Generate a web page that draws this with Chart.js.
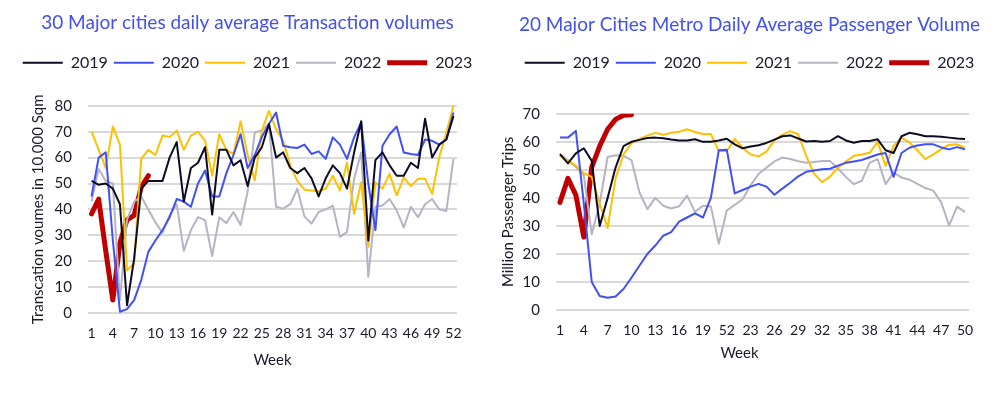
<!DOCTYPE html>
<html>
<head>
<meta charset="utf-8">
<script src="https://cdn.jsdelivr.net/npm/chart.js@4.4.1/dist/chart.umd.min.js"></script>
<style>
  body { margin: 0; background: #fff; }
  .box { position: absolute; top: 0; height: 396px; }
  #leftBox { left: 0; width: 495px; }
  #rightBox { left: 495px; width: 509px; }
</style>
</head>
<body>
<div class="box" id="leftBox"><canvas id="txChart"></canvas></div>
<div class="box" id="rightBox"><canvas id="metroChart"></canvas></div>
<script>
// ---- data: 30 cities transaction volumes (10,000 sqm) ----
const txWeeks = ['1','2','3','4','5','6','7','8','9','10','11','12','13','14','15','16','17','18','19','20',
  '21','22','23','24','25','26','27','28','29','30','31','32','33','34','35','36','37','38','39','40',
  '41','42','43','44','45','46','47','48','49','50','51','52'];
const tx2019 = [51, 49.5, 50, 48, 42, 3, 21, 48, 51, 51, 51, 60, 66, 43, 56, 58, 64, 38, 63, 63,
  57, 59, 49, 60, 64, 73, 60, 62, 56, 54, 56, 52, 45, 52, 57, 54, 48, 62, 74, 28,
  59, 62, 57, 53, 53, 58, 56, 75, 60, 65, 67, 76];
const tx2020 = [45, 60, 62, 28, 0.5, 1.5, 5, 12.7, 23.6, 28, 32, 37, 44, 43, 41, 50, 55, 45, 45, 54,
  61, 69, 56, 61, 68, 73, 77.4, 64.6, 64, 63.7, 65, 61.4, 62.4, 59.5, 67.8, 65, 59.5, 67.8, 73.6, 50,
  32, 64.6, 69, 72, 62, 61.4, 61, 67, 66.5, 65, 67, 77.4];
const tx2021 = [70, 63, 56, 72, 65, 16.5, 19, 59.5, 63, 61, 68.5, 68, 70.4, 63, 68.5, 70, 66.5, 53, 69, 63,
  61.4, 74, 61, 51.2, 70.4, 78, 71, 66.5, 57, 51, 47.6, 47.3, 47, 48, 53, 47.3, 58, 38.3, 50.5, 25.5,
  50.5, 48, 53.7, 45.4, 52.4, 49, 51.8, 51.8, 46, 60, 69.7, 80];
const tx2022 = [43, 55.6, 51, 50, 5, 36, 43, 45, 40, 35, 31, 37.7, 42, 24, 32, 37, 35.8, 22, 37, 34.7,
  39, 34, 47, 69.7, 70.6, 73, 41, 40.3, 42, 48, 37.3, 34.5, 39, 40, 41.5, 29.4, 31.3, 51.8, 62, 14,
  41, 41.5, 44, 39.6, 33, 41, 37, 42, 44, 40, 39.4, 59.5];
const tx2023 = [38.3, 44, 24, 5, 27, 36, 37.7, 48.6, 53];

// ---- data: 20 cities metro passengers (million trips) ----
const metroWeeks = ['1','2','3','4','5','6','7','8','9','10','11','12','13','14','15','16','17','18','19','20',
  '21','52','21','22','23','24','25','26','27','28','29','30','31','32','33','34','35','36','37','38',
  '39','40','41','42','43','44','45','46','47','48','49','50'];
const metro2019 = [55.6, 52.3, 55.9, 57.7, 53.2, 30, 40, 50.8, 58.5, 60, 60.7, 61.4, 61.5, 61.3, 60.8, 60.5, 60.5, 60.9, 60, 60,
  60.5, 61.1, 59.1, 57.7, 58.3, 58.8, 59.6, 60.8, 62, 62.3, 61.2, 60.1, 60.3, 60, 60.3, 62, 60.5, 59.7, 60.3, 60.3,
  60.9, 57, 56, 62, 63.2, 62.7, 62, 62, 61.8, 61.5, 61.2, 61];
const metro2020 = [61.5, 61.5, 63.9, 38, 10, 5, 4.4, 4.8, 7.5, 11.5, 15.8, 20, 23, 26.5, 27.8, 31.5, 33, 34.5, 33, 40,
  57, 57.2, 41.6, 42.8, 44, 45, 44, 41.1, 43.3, 45.4, 47.7, 49.3, 49.8, 50.2, 50.4, 51.5, 52.5, 53, 53.5, 54.5,
  55.5, 56, 47.5, 56, 57.9, 58.7, 59.1, 59.1, 58, 57.3, 58.1, 57.3];
const metro2021 = [55, 53.3, 51.5, 48.8, 47.5, 38, 29.3, 47, 55.5, 59.5, 61, 62.2, 63.2, 62.5, 63.2, 63.6, 64.5, 63.5, 62.8, 62.8,
  56.7, 56.7, 61, 57.9, 55.5, 54.8, 56.5, 60.5, 62.5, 63.8, 62.7, 55, 48.6, 45.6, 47.6, 50.8, 53, 55, 55.5, 56.1,
  60, 51.4, 58.5, 61.5, 59.8, 57, 53.8, 55.5, 57.3, 59, 59.1, 57.9];
const metro2022 = [55.6, 53.4, 51, 48, 27, 38, 54.6, 55.2, 55, 53.5, 42, 36, 40, 37.2, 36.2, 37, 40.8, 35, 37.2, 36.9,
  23.6, 35.5, 37.5, 39.5, 44.5, 48.5, 50.8, 53, 54.4, 53.9, 53.1, 52.5, 52.8, 53.2, 53.2, 50.5, 47.5, 44.9, 46.1, 52.6,
  53.8, 44.9, 49, 47.3, 46.5, 45, 43.5, 42.6, 38.4, 30.1, 36.9, 34.9];
const metro2023 = [38.4, 47, 41, 26, 51, 58.5, 64.5, 68, 69.5, 69.7];

const years = ['2019', '2020', '2021', '2022', '2023'];
const colors = ['#0c0c24', '#4050f8', '#ffc000', '#b4b4c4', '#c00000'];
const widths = [2, 2, 2, 2, 5];

const textColor = '#1a1a2a';
const titleBlue = '#4250f0';
Chart.defaults.font.family = 'Lato, "Open Sans", sans-serif';
Chart.defaults.color = textColor;

// pushes the plot area down below the legend
const legendGap = {
  id: 'legendGap',
  beforeInit(chart, args, opts) {
    const fit = chart.legend.fit;
    chart.legend.fit = function () {
      fit.bind(chart.legend)();
      this.height += opts.extra || 0;
    };
  }
};

function makeSets(seriesList) {
  return seriesList.map((data, i) => ({
    label: years[i],
    data: data,
    borderColor: colors[i],
    backgroundColor: colors[i],
    borderWidth: widths[i],
    borderCapStyle: i === 4 ? 'round' : 'butt',
    borderJoinStyle: 'round',
    pointRadius: 0,
    tension: 0,
    fill: false
  }));
}

function makeChart(id, labels, sets, cfg) {
  return new Chart(document.getElementById(id), {
    type: 'line',
    data: { labels: labels, datasets: makeSets(sets) },
    plugins: [legendGap],
    options: {
      responsive: true,
      maintainAspectRatio: false,
      animation: false,
      layout: { padding: { left: 0, right: 0, top: 0, bottom: cfg.padBottom } },
      plugins: {
        legendGap: { extra: cfg.legendExtra },
        title: {
          display: true,
          text: cfg.title,
          color: titleBlue,
          font: { size: 19, weight: 'normal' },
          padding: { top: cfg.titleTop, bottom: cfg.titleBottom }
        },
        legend: {
          position: 'top',
          labels: {
            usePointStyle: true,
            pointStyle: 'line',
            pointStyleWidth: 40,
            color: textColor,
            font: { size: 16 },
            padding: 6
          }
        },
        tooltip: { enabled: false }
      },
      scales: {
        x: {
          offset: true,
          grid: { display: false },
          border: { display: false },
          ticks: {
            autoSkip: false,
            maxRotation: 0,
            minRotation: 0,
            padding: 4,
            color: textColor,
            font: { size: 14 },
            callback: function (val, index) {
              return index % 3 === 0 ? this.getLabelForValue(val) : '';
            }
          },
          title: {
            display: true,
            text: cfg.weekText,
            color: textColor,
            font: { size: 15 },
            padding: { top: 0, bottom: cfg.weekPad }
          },
          afterFit(scale) { scale.height = cfg.xHeight; }
        },
        y: {
          min: 0,
          max: cfg.yMax,
          grid: { color: '#d9d9d9', lineWidth: 2, drawTicks: false },
          border: { display: false },
          ticks: { stepSize: 10, padding: 16, color: textColor, font: { size: 15 } },
          title: {
            display: true,
            text: cfg.yTitle,
            color: textColor,
            font: { size: 15 },
            padding: { top: cfg.yTitlePad, bottom: 0 }
          },
          afterFit(scale) { scale.width = cfg.yWidth; }
        },
        rightPad: {
          position: 'right',
          grid: { display: false },
          border: { display: false },
          ticks: { display: false },
          afterFit(scale) { scale.width = cfg.rightWidth; }
        }
      }
    }
  });
}

makeChart('txChart', txWeeks, [tx2019, tx2020, tx2021, tx2022, tx2023], {
  title: '30 Major cities daily average Transaction volumes',
  yTitle: 'Transcation voumes in 10.000 Sqm',
  yMax: 80,
  titleTop: 11, titleBottom: 15,
  legendExtra: 25,
  padBottom: 20, xHeight: 63, weekPad: 7, weekText: 'Week',
  yWidth: 88, yTitlePad: 29, rightWidth: 38
});

makeChart('metroChart', metroWeeks, [metro2019, metro2020, metro2021, metro2022, metro2023], {
  title: '20 Major Cities Metro Daily Average Passenger Volume',
  yTitle: 'Million Passenger Trips',
  yMax: 70,
  titleTop: 13, titleBottom: 13,
  legendExtra: 33,
  padBottom: 30, xHeight: 56, weekPad: 4, weekText: 'Week            ',
  yWidth: 61, yTitlePad: 4, rightWidth: 35
});
</script>
</body>
</html>
